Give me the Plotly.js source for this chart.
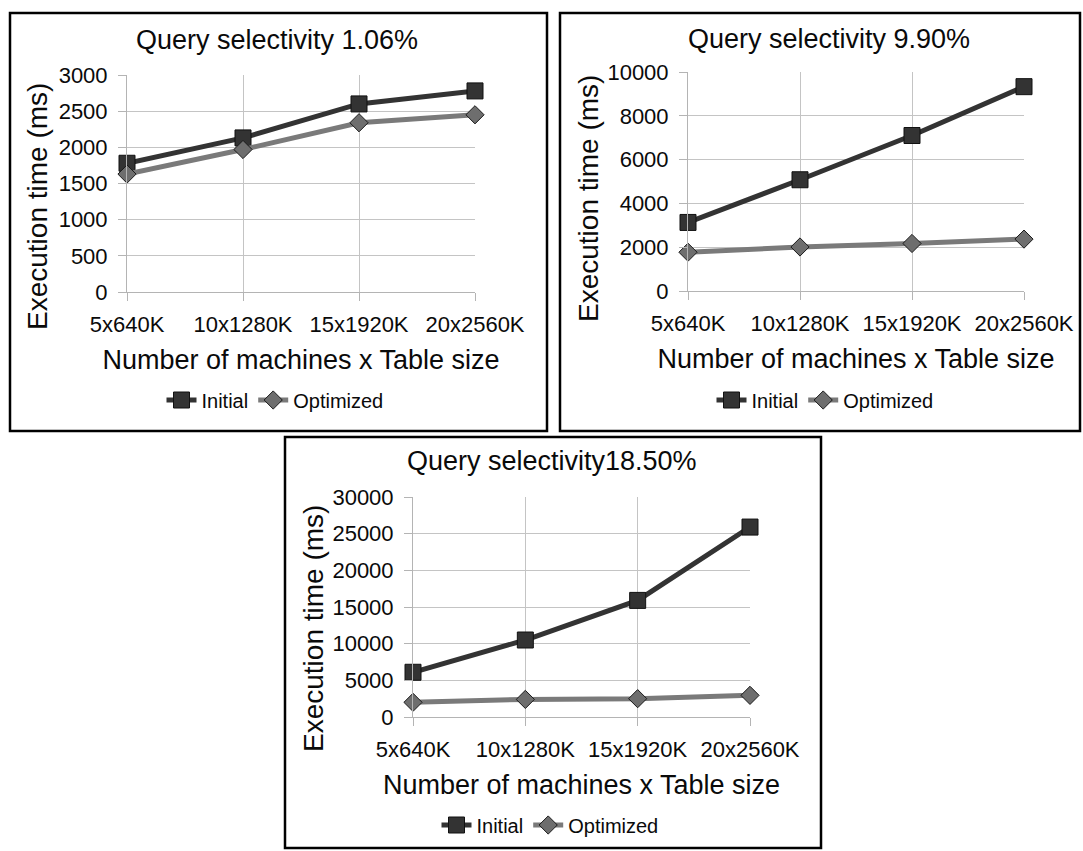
<!DOCTYPE html>
<html>
<head>
<meta charset="utf-8">
<script src="https://cdn.plot.ly/plotly-3.0.1.min.js"></script>
<style>html,body{margin:0;padding:0;background:#fff;}#chart{width:1083px;height:851px;}</style>
</head>
<body>
<div id="chart"></div>
<script>
const categories = ['5x640K', '10x1280K', '15x1920K', '20x2560K'];
const seriesNames = ['Initial', 'Optimized'];
const panelTitles = ['Query selectivity 1.06%', 'Query selectivity 9.90%', 'Query selectivity18.50%'];
const xAxisTitle = 'Number of machines x Table size';
const yAxisTitle = 'Execution time (ms)';

const initial1 = [1780, 2130, 2600, 2780];
const optimized1 = [1630, 1970, 2340, 2450];
const initial2 = [3130, 5080, 7100, 9330];
const optimized2 = [1770, 2010, 2170, 2370];
const initial3 = [6100, 10500, 15900, 25900];
const optimized3 = [2000, 2400, 2500, 2950];

const yMax = [3000, 10000, 30000];
const yStep = [500, 2000, 5000];

const W = 1083, H = 851;
const px = x => x / W;
const py = y => 1 - y / H;

const FONT = 'Liberation Sans, Arial, sans-serif';
const TXT = '#0a0a0a';

// panel geometry (pixels)
const panels = [
  {plot: [127, 475, 75, 292], border: [10, 547, 13, 431], title: [277, 40], ytitle: [38, 207], legend: [275, 400], ini: initial1, opt: optimized1},
  {plot: [688, 1024, 72, 291], border: [560, 1080, 13, 431], title: [829, 39], ytitle: [588, 199], legend: [825, 400], ini: initial2, opt: optimized2},
  {plot: [413, 750, 497, 717], border: [285, 821, 437, 848], title: [552, 461], ytitle: [313, 629], legend: [550, 825], ini: initial3, opt: optimized3}
];

const data = [];
const layout = {
  width: W, height: H,
  margin: {l: 0, r: 0, t: 0, b: 0},
  paper_bgcolor: '#ffffff', plot_bgcolor: '#ffffff',
  font: {family: FONT, color: TXT},
  showlegend: true,
  shapes: [], annotations: []
};

panels.forEach((p, i) => {
  const n = i === 0 ? '' : String(i + 1);
  const legendName = 'legend' + n;
  data.push({
    x: categories, y: p.ini, name: seriesNames[0], type: 'scatter', mode: 'lines+markers',
    xaxis: 'x' + n, yaxis: 'y' + n, legend: legendName, cliponaxis: false,
    line: {color: '#333333', width: 5},
    marker: {symbol: 'square', size: 16, color: '#333333', line: {color: '#111111', width: 1}}
  });
  data.push({
    x: categories, y: p.opt, name: seriesNames[1], type: 'scatter', mode: 'lines+markers',
    xaxis: 'x' + n, yaxis: 'y' + n, legend: legendName, cliponaxis: false,
    line: {color: '#7a7a7a', width: 5},
    marker: {symbol: 'diamond', size: 14, color: '#6e6e6e', line: {color: '#1a1a1a', width: 1}}
  });

  layout['xaxis' + n] = {
    domain: [px(p.plot[0]), px(p.plot[1])],
    anchor: 'y' + n,
    type: 'category', range: [0, 3],
    showgrid: true, gridcolor: '#c4c4c4', gridwidth: 1,
    showline: true, linecolor: '#b4b4b4', linewidth: 1,
    ticks: 'outside', ticklen: 8, tickcolor: '#b4b4b4',
    tickfont: {size: 22, color: TXT, family: FONT},
    ticklabelstandoff: 5,
    title: {text: xAxisTitle, font: {size: 27, color: TXT, family: FONT}, standoff: 13},
    fixedrange: true
  };
  layout['yaxis' + n] = {
    domain: [py(p.plot[3]), py(p.plot[2])],
    anchor: 'x' + n,
    range: [0, yMax[i]], dtick: yStep[i], tick0: 0,
    tickformat: 'd', exponentformat: 'none', separatethousands: false,
    showgrid: true, gridcolor: '#c4c4c4', gridwidth: 1,
    zeroline: false,
    showline: true, linecolor: '#b4b4b4', linewidth: 1,
    ticks: 'outside', ticklen: 8, tickcolor: '#b4b4b4',
    tickfont: {size: 22, color: TXT, family: FONT},
    ticklabelstandoff: 6,
    fixedrange: true
  };
  layout[legendName] = {
    x: px(p.legend[0]), y: py(p.legend[1]), xref: 'paper', yref: 'paper',
    xanchor: 'center', yanchor: 'middle', orientation: 'h',
    font: {size: 20, color: TXT, family: FONT},
    bgcolor: 'rgba(0,0,0,0)', itemwidth: 30, tracegroupgap: 0
  };
  layout.shapes.push({
    type: 'rect', xref: 'paper', yref: 'paper',
    x0: px(p.border[0]), x1: px(p.border[1]), y0: py(p.border[3]), y1: py(p.border[2]),
    line: {color: '#000000', width: 2.5}, fillcolor: 'rgba(0,0,0,0)', layer: 'above'
  });
  layout.annotations.push({
    text: panelTitles[i], xref: 'paper', yref: 'paper',
    x: px(p.title[0]), y: py(p.title[1]), xanchor: 'center', yanchor: 'middle',
    showarrow: false, font: {size: 27, color: TXT, family: FONT}
  });
  layout.annotations.push({
    text: yAxisTitle, xref: 'paper', yref: 'paper', textangle: -90,
    x: px(p.ytitle[0]), y: py(p.ytitle[1]), xanchor: 'center', yanchor: 'middle',
    showarrow: false, font: {size: 28, color: TXT, family: FONT}
  });
});

Plotly.newPlot('chart', data, layout, {displayModeBar: false, staticPlot: true});
</script>
</body>
</html>
